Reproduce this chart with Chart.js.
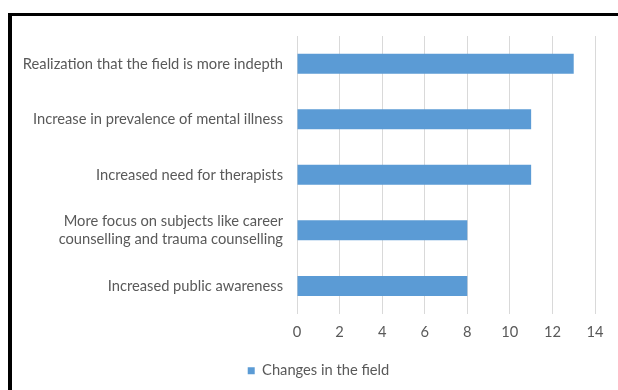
<!DOCTYPE html>
<html>
<head>
<meta charset="utf-8">
<script src="https://cdn.jsdelivr.net/npm/chart.js@4"></script>
<style>
  html, body { margin: 0; padding: 0; background: #fff; overflow: hidden; }
  #wrap { position: relative; width: 618px; height: 390px; }
  #frame {
    position: absolute; left: 8px; top: 13px; width: 700px; height: 500px;
    border-left: 4px solid #000; border-top: 3px solid #000; box-sizing: border-box;
    pointer-events: none;
  }
  canvas { position: absolute; left: 0; top: 0; }
</style>
</head>
<body>
<div id="wrap">
  <canvas id="chart" width="618" height="390"></canvas>
  <div id="frame"></div>
</div>
<script>
const categories = [
  "Realization that the field is more indepth",
  "Increase in prevalence of mental illness",
  "Increased need for therapists",
  ["More focus on subjects like career", "counselling and trauma counselling"],
  "Increased public awareness"
];
const seriesName = "Changes in the field";
const seriesValues = [13, 11, 11, 8, 8];
const xTicks = [0, 2, 4, 6, 8, 10, 12, 14];

const textColor = "#595959";
const fontFamily = "Lato, 'Liberation Sans', sans-serif";
const fontSize = 14.7;

// nudge the legend right so it sits centred under the whole frame
const legendShift = {
  id: "legendShift",
  afterLayout(chart) {
    const lg = chart.legend;
    if (lg) { lg.left += 21; lg.right += 21; }
  }
};

new Chart(document.getElementById("chart"), {
  type: "bar",
  data: {
    labels: categories,
    datasets: [{
      label: seriesName,
      data: seriesValues,
      backgroundColor: "#5B9BD5",
      borderWidth: 0,
      categoryPercentage: 1,
      barPercentage: 0.36
    }]
  },
  options: {
    indexAxis: "y",
    responsive: false,
    animation: false,
    layout: { padding: { left: 0, right: 23, top: 36, bottom: 2 } },
    scales: {
      x: {
        min: xTicks[0],
        max: xTicks[xTicks.length - 1],
        afterBuildTicks: (scale) => { scale.ticks = xTicks.map(v => ({ value: v })); },
        grid: { color: "#D9D9D9", drawTicks: false },
        border: { display: false },
        ticks: { color: textColor, font: { family: fontFamily, size: fontSize }, padding: 10 }
      },
      y: {
        afterFit: (scale) => { scale.width = 297; },
        grid: { display: false, drawTicks: false },
        border: { display: false },
        ticks: { color: textColor, font: { family: fontFamily, size: fontSize }, padding: 14 }
      }
    },
    plugins: {
      legend: {
        position: "bottom",
        labels: {
          color: textColor,
          font: { family: fontFamily, size: fontSize },
          boxWidth: 7, boxHeight: 7, padding: 12
        }
      },
      tooltip: { enabled: false }
    }
  },
  plugins: [legendShift]
});
</script>
</body>
</html>
